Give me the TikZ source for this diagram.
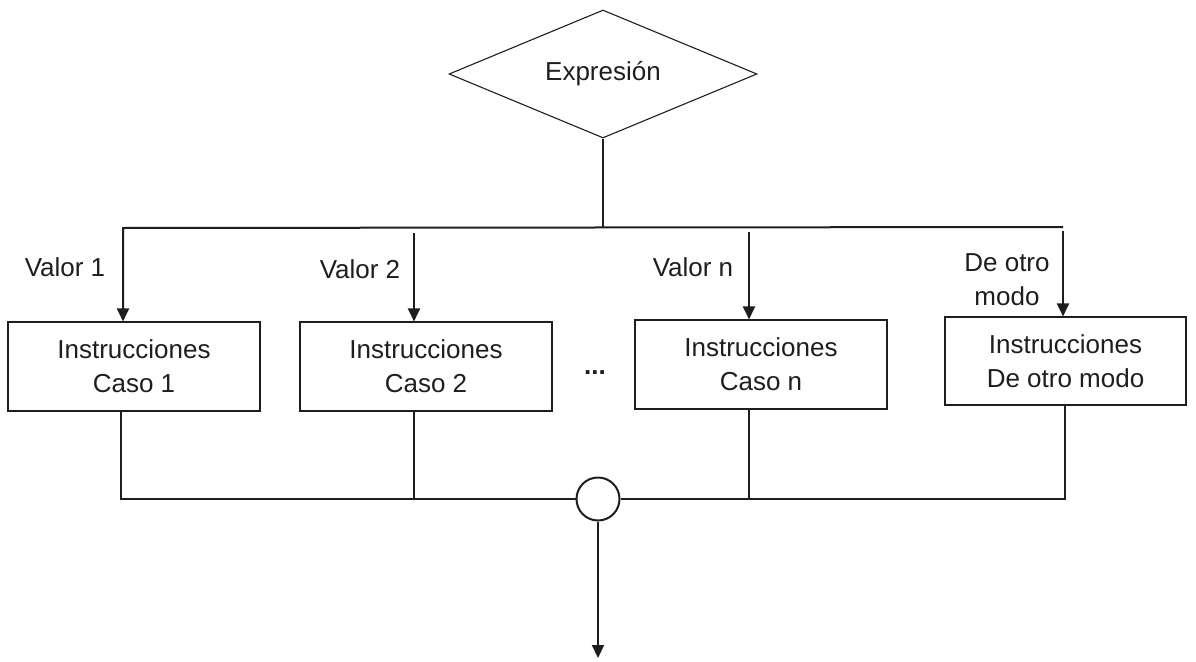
\documentclass[tikz,border=0pt]{standalone}
\usepackage{fontspec}
\setmainfont{Liberation Sans}
\usetikzlibrary{shapes.geometric,arrows.meta}
\definecolor{ink}{RGB}{30,30,30}
\begin{document}
\begin{tikzpicture}[x=1pt,y=-1pt,
  every node/.style={text=ink,font=\fontsize{26}{34}\selectfont},
  decision/.style={diamond,draw=ink,line width=1.1pt,aspect=2.4,inner sep=0pt,minimum width=308pt,minimum height=128pt},
  stepbox/.style={rectangle,draw=ink,line width=1.1pt,align=center,inner sep=0pt,minimum width=252pt,minimum height=89pt},
  conn/.style={draw=ink,line width=2pt},
  arr/.style={conn,-{Triangle[length=13pt,width=12pt]}},
  lbl/.style={align=center,inner sep=0pt}]
\useasboundingbox (0,0) rectangle (1196,661);

% decision
\node[decision] (ex) at (603,74) {Expresión};

% case boxes
\node[stepbox] (b1) at (134,366.5) {Instrucciones\\Caso 1};
\node[stepbox] (b2) at (426,366.5) {Instrucciones\\Caso 2};
\node[stepbox] (bn) at (761,364.5) {Instrucciones\\Caso n};
\node[stepbox,minimum width=241pt,minimum height=88pt] (bo) at (1065.5,361) {Instrucciones\\De otro modo};

% join circle
\node[circle,draw=ink,line width=2pt,minimum size=43pt,inner sep=0pt] (c) at (598,499) {};

% labels
\node[lbl] (l1) at (65,267) {Valor 1};
\node[lbl] (l2) at (360,269) {Valor 2};
\node[lbl] (ln) at (693,267) {Valor n};
\node[lbl] (lo) at (1007,280) {De otro\\modo};
\node[lbl,anchor=base] (dots) at (595,374) {\textbf{...}};

% top distribution line
\coordinate (tL) at (123,228);
\coordinate (tR) at (1063,227);
\coordinate (s2) at (414,233);
\coordinate (sn) at (749,232);
\coordinate (so) at (1063,231);
\draw[conn] (ex.south) -- (ex.south |- tL);
\draw[arr] (tR) -- (tL) -- (tL |- b1.north);
\draw[arr] (s2) -- (s2 |- b2.north);
\draw[arr] (sn) -- (sn |- bn.north);
\draw[arr] (so) -- (so |- bo.north);

% bottom collecting line
\coordinate (v1) at (121,499);
\coordinate (v2) at (414,499);
\coordinate (vn) at (749,499);
\coordinate (vo) at (1065,499);
\draw[conn] (c.west) -- (v1) -- (v1 |- b1.south);
\draw[conn] (c.east) -- (vo) -- (vo |- bo.south);
\draw[conn] (v2 |- b2.south) -- (v2);
\draw[conn] (vn |- bn.south) -- (vn);

% exit
\coordinate (out) at (598,658);
\draw[arr] (c.south) -- (out);
\end{tikzpicture}
\end{document}
